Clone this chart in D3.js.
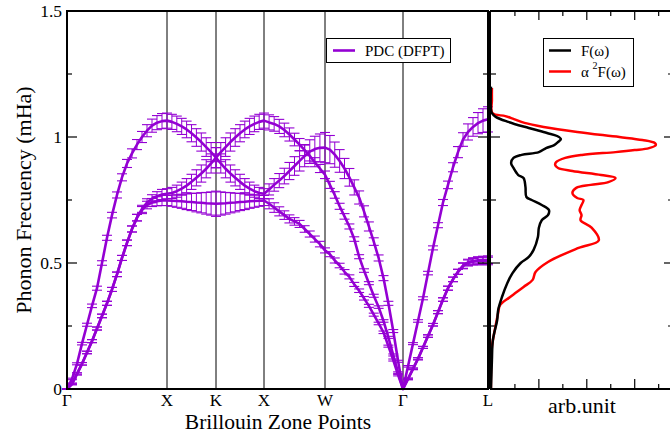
<!DOCTYPE html>
<html><head><meta charset="utf-8">
<script src="https://cdn.jsdelivr.net/npm/d3@7"></script>
<style>
body{margin:0;background:#fff}
text{font-family:"Liberation Serif","Times New Roman",serif;fill:#000}
</style>
</head><body>
<svg id="c" width="670" height="434"></svg>
<script>
// ---------- data ----------
const kLabels = ["Γ","X","K","X","W","Γ","L"];
const kTicks  = [0, 1.0, 1.49, 1.97, 2.58, 3.36, 4.21];
const segIntervals = [20, 10, 10, 12, 16, 17];   // sampled points per path segment
const yTickValues = [0, 0.5, 1, 1.5];
const yTickLabels = ["0", "0.5", "1", "1.5"];

// band A (TA1)
const bandA = [
  0,0.02,0.06,0.10,0.145,0.19,0.24,0.29,0.34,0.395,0.455,0.52,0.58,0.635,0.68,0.71,0.73,0.74,0.745,0.748,0.748,
  0.747,0.746,0.745,0.743,0.742,0.740,0.739,0.737,0.736,0.735,
  0.736,0.737,0.739,0.740,0.742,0.743,0.745,0.746,0.747,0.748,
  0.735,0.72,0.705,0.69,0.675,0.665,0.655,0.635,0.615,0.595,0.575,0.55,
  0.535,0.51,0.49,0.465,0.445,0.415,0.39,0.36,0.33,0.295,0.26,0.225,0.17,0.115,0.055,0,
  0.04,0.08,0.12,0.165,0.21,0.255,0.305,0.355,0.40,0.435,0.465,0.488,0.50,0.505,0.507,0.508,0.508];
const errA = [
  0,0.003,0.004,0.005,0.005,0.006,0.006,0.007,0.008,0.008,0.009,0.01,0.011,0.012,0.013,0.014,0.015,0.016,0.018,0.02,0.02,
  0.022,0.025,0.028,0.031,0.034,0.037,0.04,0.043,0.046,0.05,
  0.046,0.043,0.04,0.037,0.034,0.031,0.028,0.025,0.022,0.02,
  0.02,0.019,0.018,0.017,0.016,0.015,0.014,0.013,0.012,0.012,0.011,0.01,
  0.01,0.01,0.009,0.009,0.008,0.008,0.007,0.007,0.006,0.006,0.005,0.005,0.004,0.004,0.003,0,
  0.003,0.003,0.004,0.004,0.005,0.005,0.006,0.007,0.008,0.009,0.01,0.011,0.012,0.013,0.014,0.015,0.015];

// band B (TA2)
const bandB = [
  0,0.02,0.06,0.10,0.145,0.19,0.24,0.29,0.34,0.395,0.455,0.52,0.58,0.635,0.68,0.715,0.74,0.755,0.765,0.772,0.775,
  0.778,0.785,0.795,0.807,0.822,0.838,0.855,0.874,0.895,0.918,
  0.895,0.874,0.855,0.838,0.822,0.807,0.795,0.785,0.778,0.775,
  0.792,0.81,0.827,0.845,0.865,0.885,0.905,0.925,0.942,0.952,0.957,0.958,
  0.95,0.93,0.905,0.875,0.84,0.80,0.76,0.705,0.645,0.585,0.52,0.44,0.34,0.23,0.11,0,
  0.04,0.08,0.12,0.165,0.21,0.255,0.305,0.355,0.40,0.435,0.465,0.49,0.503,0.508,0.511,0.512,0.513];
const errB = [
  0,0.003,0.004,0.005,0.005,0.006,0.006,0.007,0.008,0.008,0.009,0.01,0.011,0.012,0.013,0.014,0.015,0.016,0.018,0.02,0.02,
  0.022,0.024,0.026,0.028,0.03,0.032,0.034,0.036,0.038,0.04,
  0.038,0.036,0.034,0.032,0.03,0.028,0.026,0.024,0.022,0.02,
  0.022,0.025,0.028,0.031,0.034,0.037,0.04,0.043,0.047,0.051,0.055,0.06,
  0.056,0.05,0.045,0.04,0.035,0.03,0.026,0.022,0.018,0.015,0.012,0.01,0.008,0.006,0.004,0,
  0.003,0.003,0.004,0.004,0.005,0.005,0.006,0.007,0.008,0.009,0.01,0.011,0.012,0.013,0.014,0.015,0.015];

// band C (LA)
const bandC = [
  0,0.04,0.10,0.18,0.255,0.33,0.40,0.50,0.60,0.69,0.77,0.84,0.895,0.935,0.97,1.0,1.025,1.045,1.057,1.063,1.065,
  1.06,1.052,1.042,1.03,1.015,0.998,0.98,0.96,0.94,0.918,
  0.94,0.96,0.98,0.998,1.015,1.03,1.042,1.052,1.06,1.065,
  1.058,1.052,1.042,1.028,1.01,0.99,0.97,0.948,0.925,0.90,0.875,0.85,
  0.81,0.77,0.725,0.685,0.645,0.595,0.525,0.47,0.42,0.37,0.325,0.27,0.205,0.135,0.065,0,
  0.09,0.18,0.27,0.36,0.46,0.56,0.65,0.74,0.81,0.88,0.94,0.99,1.02,1.04,1.055,1.065,1.07];
const errC = [
  0,0.003,0.004,0.005,0.006,0.007,0.008,0.009,0.01,0.011,0.012,0.014,0.016,0.018,0.02,0.022,0.024,0.026,0.028,0.03,0.03,
  0.03,0.031,0.032,0.033,0.034,0.035,0.036,0.037,0.038,0.04,
  0.038,0.037,0.036,0.035,0.034,0.033,0.032,0.031,0.03,0.03,
  0.03,0.029,0.028,0.027,0.026,0.025,0.024,0.022,0.02,0.018,0.016,0.015,
  0.014,0.013,0.012,0.011,0.01,0.009,0.008,0.007,0.006,0.006,0.005,0.005,0.004,0.004,0.003,0,
  0.003,0.004,0.005,0.006,0.007,0.008,0.01,0.012,0.015,0.018,0.022,0.027,0.032,0.037,0.042,0.047,0.05];

// density of states (frequency in mHa, value in arb. units)
const dosFreq = [0,0.056,0.115,0.194,0.274,0.313,0.365,0.42,0.46,0.50,0.524,0.552,0.603,0.64,0.67,0.69,0.71,0.73,0.75,0.762,0.802,0.837,0.849,0.877,0.897,0.917,0.929,0.94,0.956,0.968,0.98,0.992,1.004,1.016,1.036,1.06,1.08,1.095,1.107,1.2];
const dosF    = [0,0.01,0.02,0.04,0.13,0.15,0.23,0.34,0.45,0.62,0.79,0.89,0.98,1.0,1.06,1.19,1.21,1.06,0.85,0.74,0.72,0.68,0.57,0.47,0.42,0.47,0.64,1.0,1.15,1.32,1.4,1.46,1.38,1.17,0.79,0.36,0.1,0.02,0,0];
const a2fFreq = [0,0.063,0.167,0.234,0.302,0.333,0.365,0.405,0.433,0.464,0.504,0.56,0.59,0.64,0.67,0.69,0.71,0.73,0.75,0.758,0.778,0.798,0.81,0.821,0.837,0.849,0.865,0.877,0.889,0.90,0.917,0.929,0.94,0.948,0.956,0.968,0.976,0.988,1.0,1.02,1.04,1.056,1.071,1.083,1.095,1.147,1.194];
const a2F     = [0,0,0.02,0.08,0.15,0.19,0.4,0.68,0.87,0.93,1.19,1.83,2.25,2.1,1.87,1.89,1.85,1.89,1.93,1.8,1.7,1.78,2.08,2.45,2.6,2.3,1.7,1.4,1.34,1.36,1.55,1.9,2.6,3.0,3.3,3.44,3.42,3.16,2.68,1.8,1.1,0.7,0.48,0.3,0.03,0.02,0.02];
const dosTicks = [1, 2, 3];
const dosMinor = [0.5, 1.5, 2.5, 3.5];

// ---------- drawing ----------
const svg = d3.select("#c");
const purple = "#9400d3";
const L = {x0: 67, x1: 488, y0: 11, y1: 389};
const R = {x0: 490, x1: 674};

const x = d3.scaleLinear().domain([kTicks[0], kTicks[kTicks.length-1]]).range([L.x0, L.x1]);
const y = d3.scaleLinear().domain([0, 1.5]).range([L.y1, L.y0]);
const xr = d3.scaleLinear().domain([-0.02, 3.82]).range([R.x0, R.x1]);

// k positions of sampled points
const kPts = [kTicks[0]];
segIntervals.forEach((n, s) => {
  const a = kTicks[s], b = kTicks[s+1];
  for (let j = 1; j <= n; j++) kPts.push(a + (b - a) * j / n);
});

// high symmetry lines
svg.append("g").selectAll("line").data(kTicks.slice(1, -1)).join("line")
  .attr("x1", d => x(d)).attr("x2", d => x(d))
  .attr("y1", L.y0).attr("y2", L.y1)
  .attr("stroke", "#000").attr("stroke-width", 1);

// bands with error bars
const bands = [[bandA, errA], [bandB, errB], [bandC, errC]];
const gE = svg.append("g");
bands.forEach(([v, e]) => {
  const pts = kPts.map((k, i) => ({k, v: v[i], e: e[i]}));
  const g = gE.append("g");
  g.selectAll("line.v").data(pts).join("line").attr("class", "v")
    .attr("x1", d => x(d.k)).attr("x2", d => x(d.k))
    .attr("y1", d => y(d.v - d.e)).attr("y2", d => y(d.v + d.e))
    .attr("stroke", purple).attr("stroke-width", 1);
  ["t", "b"].forEach(side => {
    g.selectAll("line.c" + side).data(pts).join("line").attr("class", "c" + side)
      .attr("x1", d => x(d.k) - 5).attr("x2", d => x(d.k) + 5)
      .attr("y1", d => y(side === "t" ? d.v + d.e : d.v - d.e))
      .attr("y2", d => y(side === "t" ? d.v + d.e : d.v - d.e))
      .attr("stroke", purple).attr("stroke-width", 1.1);
  });
});
const lineGen = d3.line().x(d => x(d.k)).y(d => y(d.v));
bands.forEach(([v]) => {
  svg.append("path").datum(kPts.map((k, i) => ({k, v: v[i]})))
    .attr("d", lineGen).attr("fill", "none")
    .attr("stroke", purple).attr("stroke-width", 2.6).attr("stroke-linejoin", "round");
});

// left panel frame
svg.append("rect").attr("x", L.x0).attr("y", L.y0).attr("width", L.x1 - L.x0).attr("height", L.y1 - L.y0)
  .attr("fill", "none").attr("stroke", "#000").attr("stroke-width", 2);

// y ticks (inward, both panels)
const yMinor = [0.25, 0.75, 1.25];
const tickG = svg.append("g").attr("stroke", "#000").attr("stroke-width", 1.2);
yTickValues.forEach(v => {
  tickG.append("line").attr("x1", L.x0).attr("x2", L.x0 + 10).attr("y1", y(v)).attr("y2", y(v));
  tickG.append("line").attr("x1", L.x1).attr("x2", L.x1 - 10).attr("y1", y(v)).attr("y2", y(v));
  tickG.append("line").attr("x1", R.x0).attr("x2", R.x0 + 10).attr("y1", y(v)).attr("y2", y(v));
  tickG.append("line").attr("x1", R.x1).attr("x2", R.x1 - 10).attr("y1", y(v)).attr("y2", y(v));
});
yMinor.forEach(v => {
  tickG.append("line").attr("x1", L.x0).attr("x2", L.x0 + 5).attr("y1", y(v)).attr("y2", y(v));
  tickG.append("line").attr("x1", L.x1).attr("x2", L.x1 - 5).attr("y1", y(v)).attr("y2", y(v));
  tickG.append("line").attr("x1", R.x0).attr("x2", R.x0 + 6).attr("y1", y(v)).attr("y2", y(v));
  tickG.append("line").attr("x1", R.x1).attr("x2", R.x1 - 6).attr("y1", y(v)).attr("y2", y(v));
});

// y tick labels
svg.append("g").selectAll("text").data(yTickValues).join("text")
  .attr("x", 62).attr("y", d => y(d)).attr("dy", "0.33em")
  .attr("text-anchor", "end").attr("font-size", 17.5)
  .text((d, i) => yTickLabels[i]);

// x tick labels
svg.append("g").selectAll("text").data(kTicks).join("text")
  .attr("x", d => x(d)).attr("y", 406)
  .attr("text-anchor", "middle").attr("font-size", 17)
  .text((d, i) => kLabels[i]);

// axis titles
svg.append("text").attr("transform", "translate(31,200) rotate(-90)")
  .attr("text-anchor", "middle").attr("font-size", 22).text("Phonon Frecuency (mHa)");
svg.append("text").attr("x", 278).attr("y", 429)
  .attr("text-anchor", "middle").attr("font-size", 21.5).text("Brillouin Zone Points");
svg.append("text").attr("x", 582).attr("y", 413)
  .attr("text-anchor", "middle").attr("font-size", 22).text("arb.unit");

// legend left
const lg = svg.append("g");
lg.append("rect").attr("x", 326.5).attr("y", 38.5).attr("width", 124).attr("height", 24)
  .attr("fill", "#fff").attr("stroke", "#000").attr("stroke-width", 1);
lg.append("line").attr("x1", 333).attr("x2", 355).attr("y1", 50.5).attr("y2", 50.5)
  .attr("stroke", purple).attr("stroke-width", 2.6);
lg.append("text").attr("x", 365).attr("y", 55.5).attr("font-size", 15).text("PDC (DFPT)");

// right panel: DOS curves
const dosLine = d3.line().x(d => xr(d[1])).y(d => y(d[0])).curve(d3.curveCatmullRom);
svg.append("path").datum(a2fFreq.map((f, i) => [f, a2F[i]]))
  .attr("d", dosLine).attr("fill", "none").attr("stroke", "#ff0000").attr("stroke-width", 2.5);
svg.append("path").datum(dosFreq.map((f, i) => [f, dosF[i]]))
  .attr("d", dosLine).attr("fill", "none").attr("stroke", "#000").attr("stroke-width", 2.5);

// right panel frame
const rf = svg.append("g").attr("stroke", "#000").attr("stroke-width", 2);
rf.append("line").attr("x1", R.x0).attr("x2", R.x0).attr("y1", L.y0).attr("y2", L.y1);
rf.append("line").attr("x1", R.x0).attr("x2", R.x1).attr("y1", L.y0).attr("y2", L.y0);
rf.append("line").attr("x1", R.x0).attr("x2", R.x1).attr("y1", L.y1).attr("y2", L.y1);
rf.append("line").attr("x1", R.x1).attr("x2", R.x1).attr("y1", L.y0).attr("y2", L.y1);
const rt = svg.append("g").attr("stroke", "#000").attr("stroke-width", 1.2);
dosTicks.forEach(v => {
  rt.append("line").attr("x1", xr(v)).attr("x2", xr(v)).attr("y1", L.y0).attr("y2", L.y0 + 9);
  rt.append("line").attr("x1", xr(v)).attr("x2", xr(v)).attr("y1", L.y1).attr("y2", L.y1 - 10);
});
dosMinor.forEach(v => {
  rt.append("line").attr("x1", xr(v)).attr("x2", xr(v)).attr("y1", L.y0).attr("y2", L.y0 + 5);
  rt.append("line").attr("x1", xr(v)).attr("x2", xr(v)).attr("y1", L.y1).attr("y2", L.y1 - 5);
});

// legend right
const rl = svg.append("g");
rl.append("rect").attr("x", 543.5).attr("y", 38.5).attr("width", 90).attr("height", 48)
  .attr("fill", "#fff").attr("stroke", "#000").attr("stroke-width", 1);
rl.append("line").attr("x1", 549).attr("x2", 571).attr("y1", 50.5).attr("y2", 50.5)
  .attr("stroke", "#000").attr("stroke-width", 2.5);
rl.append("text").attr("x", 581).attr("y", 55.5).attr("font-size", 15).text("F(ω)");
rl.append("line").attr("x1", 549).attr("x2", 571).attr("y1", 71.5).attr("y2", 71.5)
  .attr("stroke", "#ff0000").attr("stroke-width", 2.5);
const t2 = rl.append("text").attr("x", 581).attr("y", 77).attr("font-size", 15);
t2.append("tspan").text("α ");
t2.append("tspan").attr("dy", -8).attr("font-size", 10).text("2");
t2.append("tspan").attr("dy", 8).text("F(ω)");
</script>
</body></html>
